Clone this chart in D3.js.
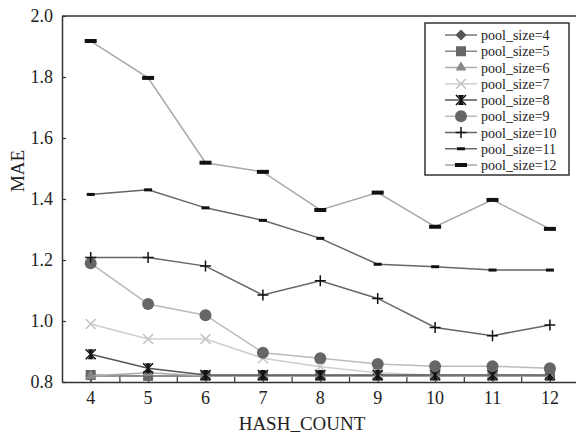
<!DOCTYPE html>
<html>
<head>
<meta charset="utf-8">
<script src="https://cdn.jsdelivr.net/npm/d3@7"></script>
<style>
  body { margin: 0; background: #fff; }
  svg { display: block; font-family: "Liberation Serif", "Times New Roman", serif; }
</style>
</head>
<body>
<svg id="chart" width="576" height="435"></svg>
<script>
// values
var hashCounts = [4, 5, 6, 7, 8, 9, 10, 11, 12];
var pool4  = [0.82, 0.82, 0.82, 0.82, 0.82, 0.82, 0.82, 0.82, 0.82];
var pool5  = [0.823, 0.82, 0.82, 0.82, 0.82, 0.82, 0.82, 0.82, 0.82];
var pool6  = [0.82, 0.83, 0.82, 0.82, 0.82, 0.82, 0.82, 0.82, 0.82];
var pool7  = [0.99, 0.941, 0.941, 0.878, 0.85, 0.83, 0.822, 0.822, 0.822];
var pool8  = [0.891, 0.845, 0.823, 0.823, 0.823, 0.823, 0.823, 0.823, 0.823];
var pool9  = [1.189, 1.056, 1.019, 0.896, 0.878, 0.859, 0.852, 0.852, 0.845];
var pool10 = [1.208, 1.208, 1.18, 1.085, 1.132, 1.074, 0.979, 0.952, 0.987];
var pool11 = [1.415, 1.43, 1.371, 1.33, 1.271, 1.186, 1.178, 1.167, 1.167];
var pool12 = [1.918, 1.797, 1.519, 1.489, 1.364, 1.421, 1.309, 1.397, 1.302];
var yTicks = [0.8, 1.0, 1.2, 1.4, 1.6, 1.8, 2.0];
var seriesNames = ["pool_size=4", "pool_size=5", "pool_size=6", "pool_size=7", "pool_size=8",
                   "pool_size=9", "pool_size=10", "pool_size=11", "pool_size=12"];

var series = [
    {name: seriesNames[0], values: pool4,  marker: "diamond",  fill: "#555", line: "#777"},
    {name: seriesNames[1], values: pool5,  marker: "square",   fill: "#666", line: "#888"},
    {name: seriesNames[2], values: pool6,  marker: "triangle", fill: "#888", line: "#aaa"},
    {name: seriesNames[3], values: pool7,  marker: "cross",    fill: "#c4c4c4", line: "#cfcfcf"},
    {name: seriesNames[4], values: pool8,  marker: "bowtie",   fill: "#111", line: "#555"},
    {name: seriesNames[5], values: pool9,  marker: "circle",   fill: "#666", line: "#bbb"},
    {name: seriesNames[6], values: pool10, marker: "plus",     fill: "#111", line: "#666"},
    {name: seriesNames[7], values: pool11, marker: "dash",     fill: "#111", line: "#666"},
    {name: seriesNames[8], values: pool12, marker: "bigdash",  fill: "#111", line: "#a8a8a8"}
];

var svg = d3.select("#chart");

var plotLeft = 62, plotTop = 16, plotBottom = 382,
    plotRight = plotLeft + 9 * 57.4;

var x = d3.scaleLinear().domain([3.5, 12.5]).range([plotLeft, plotRight]);
var y = d3.scaleLinear().domain([0.8, 2.0]).range([plotBottom, plotTop]);

// draws one marker of the given kind at (cx, cy)
var drawMarker = function (g, kind, cx, cy, col) {
    if (kind == "diamond") {
        g.append("path").attr("d", "M0,-5.5L5.5,0L0,5.5L-5.5,0Z")
            .attr("transform", "translate(" + cx + "," + cy + ")").attr("fill", col);
    } else if (kind == "square") {
        g.append("rect").attr("x", cx - 5).attr("y", cy - 5).attr("width", 10).attr("height", 10)
            .attr("fill", col);
    } else if (kind == "triangle") {
        g.append("path").attr("d", d3.symbol(d3.symbolTriangle, 50)())
            .attr("transform", "translate(" + cx + "," + cy + ")").attr("fill", col);
    } else if (kind == "cross") {
        g.append("path").attr("d", "M-5,-5L5,5M-5,5L5,-5")
            .attr("transform", "translate(" + cx + "," + cy + ")")
            .attr("stroke", col).attr("stroke-width", 1.6).attr("fill", "none");
    } else if (kind == "bowtie") {
        g.append("path").attr("d", "M-5,-5L5,5M-5,5L5,-5")
            .attr("transform", "translate(" + cx + "," + cy + ")")
            .attr("stroke", col).attr("stroke-width", 1.6).attr("fill", "none");
        g.append("path").attr("d", "M-3,-5L3,-5L0,0ZM-3,5L3,5L0,0Z")
            .attr("transform", "translate(" + cx + "," + cy + ")").attr("fill", col);
    } else if (kind == "circle") {
        g.append("circle").attr("cx", cx).attr("cy", cy).attr("r", 6).attr("fill", col);
    } else if (kind == "plus") {
        g.append("path").attr("d", "M-5.5,0L5.5,0M0,-5.5L0,5.5")
            .attr("transform", "translate(" + cx + "," + cy + ")")
            .attr("stroke", col).attr("stroke-width", 1.5).attr("fill", "none");
    } else if (kind == "dash") {
        g.append("rect").attr("x", cx - 4).attr("y", cy - 1.5).attr("width", 8).attr("height", 3)
            .attr("fill", col);
    } else if (kind == "bigdash") {
        g.append("rect").attr("x", cx - 6).attr("y", cy - 2).attr("width", 12).attr("height", 4)
            .attr("fill", col);
    }
};

// frame: top line runs off the right edge
svg.append("line").attr("x1", plotLeft).attr("x2", plotRight).attr("y1", plotTop).attr("y2", plotTop)
    .attr("stroke", "#333").attr("stroke-width", 1.5);

// x axis, ticks pointing inward at every half step
var xTickVals = d3.range(4, 12.51, 0.5);
svg.append("g")
    .attr("transform", "translate(0," + plotBottom + ")")
    .call(d3.axisBottom(x).tickValues(xTickVals).tickSizeInner(-6).tickSizeOuter(0).tickFormat(""))
    .call(function (g) {
        g.select(".domain").attr("stroke", "#333").attr("stroke-width", 1.5);
        g.selectAll(".tick line").attr("stroke", "#333").attr("stroke-width", 1.2);
    });

svg.selectAll(".xlab").data(hashCounts).enter().append("text")
    .attr("class", "xlab")
    .attr("x", function (d) { return x(d); })
    .attr("y", 404)
    .attr("text-anchor", "middle")
    .attr("font-size", "18px")
    .attr("fill", "#222")
    .text(function (d) { return d; });

// y axis, ticks pointing inward
svg.append("g")
    .attr("transform", "translate(" + plotLeft + ",0)")
    .call(d3.axisLeft(y).tickValues(yTicks).tickSizeInner(-4).tickSizeOuter(0).tickFormat(""))
    .call(function (g) {
        g.select(".domain").attr("stroke", "#333").attr("stroke-width", 1.5);
        g.selectAll(".tick line").attr("stroke", "#333").attr("stroke-width", 1.2);
    });

svg.selectAll(".ylab").data(yTicks).enter().append("text")
    .attr("class", "ylab")
    .attr("x", 53)
    .attr("y", function (d) { return y(d) + 6; })
    .attr("text-anchor", "end")
    .attr("font-size", "18px")
    .attr("fill", "#222")
    .text(function (d) { return d.toFixed(1); });

// axis titles
svg.append("text").attr("x", 302).attr("y", 430).attr("text-anchor", "middle")
    .attr("font-size", "19px").attr("fill", "#222").text("HASH_COUNT");
svg.append("text").attr("transform", "translate(24,171) rotate(-90)").attr("text-anchor", "middle")
    .attr("font-size", "19px").attr("fill", "#222").text("MAE");

// series lines then markers
var lineGen = d3.line()
    .x(function (d, i) { return x(hashCounts[i]); })
    .y(function (d) { return y(d); });

series.forEach(function (s) {
    var g = svg.append("g");
    g.append("path").attr("d", lineGen(s.values))
        .attr("fill", "none").attr("stroke", s.line).attr("stroke-width", 1.5);
    s.values.forEach(function (v, i) {
        drawMarker(g, s.marker, x(hashCounts[i]), y(v), s.fill);
    });
});

// legend
var legX = 425, legY = 23, legW = 144, legH = 152, rowH = 16.25;
var legend = svg.append("g");
legend.append("rect").attr("x", legX).attr("y", legY).attr("width", legW).attr("height", legH)
    .attr("fill", "#fff").attr("stroke", "#333").attr("stroke-width", 1.5);

series.forEach(function (s, i) {
    var cy = legY + 12 + i * rowH;
    legend.append("line").attr("x1", 445).attr("x2", 477).attr("y1", cy).attr("y2", cy)
        .attr("stroke", s.line).attr("stroke-width", 1.5);
    drawMarker(legend, s.marker, 461, cy, s.fill);
    legend.append("text").attr("x", 481).attr("y", cy + 5)
        .attr("font-size", "14px").attr("fill", "#222").text(s.name);
});
</script>
</body>
</html>
